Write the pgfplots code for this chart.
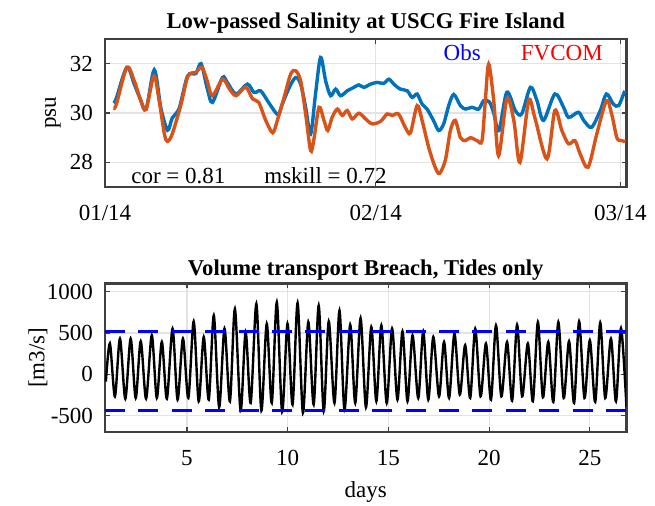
\documentclass[border=0pt]{standalone}
\usepackage{pgfplots}
\pgfplotsset{compat=1.18}
\usepackage{fontspec}
\setmainfont{Liberation Serif}
\definecolor{obsblue}{RGB}{0,114,189}
\definecolor{fvorange}{RGB}{217,83,25}
\begin{document}
\begin{tikzpicture}
\useasboundingbox (0,0) rectangle (327.5pt,252.5pt);
\pgfplotsset{
  every axis/.append style={
    scale only axis,
    width=260.75pt,
    axis line style={black!75, line width=1.1pt},
    tick style={black!75, line width=0.6pt},
    major tick length=2.5pt,
    tick align=inside,
    grid=major,
    major grid style={gray!22, line width=0.6pt},
    tick label style={font=\fontsize{11.5}{13}\selectfont},
    xticklabel style={yshift=-5.5pt},
    yticklabel style={xshift=-2.5pt},
    /pgf/number format/assume math mode=true,
    /pgf/number format/1000 sep={},
    title style={font=\fontsize{11.3}{13}\selectfont\bfseries},
    label style={font=\fontsize{11.5}{13}\selectfont},
  }
}
\begin{axis}[at={(52.5pt,159pt)}, anchor=south west, height=74pt,
  xmin=0, xmax=59.7, ymin=27, ymax=33,
  xtick={0,31,59}, xticklabels={01/14,02/14,03/14},
  ytick={28,30,32},
  ylabel={psu}, ylabel style={at={(axis description cs:-0.0997,0.5)}, anchor=center},
  title={Low-passed Salinity at USCG Fire Island}, title style={yshift=-6.5pt}]
\addplot[obsblue, line width=1.7pt, smooth, tension=0.5] coordinates {
(1.0,30.4) (1.3,30.6) (2.5,31.85) (3.35,31.17) (4.0,30.6) (4.7,30.15) (5.64,31.75)
(6.4,30.2) (7.16,29.3) (7.7,29.8) (8.5,30.2) (9.45,31.5) (10.4,31.6) (11.0,32.0)
(11.7,31.0) (12.3,30.43) (13.45,31.44) (14.0,31.24) (15.0,30.77) (16.3,31.17)
(17.07,30.83) (17.8,30.9) (18.6,30.5) (19.5,30.03) (19.9,29.96) (20.3,30.36)
(21.1,31.04) (21.83,31.44) (22.4,31.17) (22.97,30.23) (23.54,29.15) (24.1,30.77)
(24.68,32.25) (25.26,31.3) (25.83,30.7) (26.4,30.97) (26.97,30.7) (27.73,30.9)
(28.5,31.04) (29.06,31.14) (29.63,31.04) (30.4,31.17) (31.16,31.24) (31.9,31.2)
(32.5,31.37) (33.06,31.17) (33.8,30.97) (34.6,30.9) (35.16,30.63) (35.73,30.77)
(36.3,30.36) (36.87,30.16) (37.6,29.7) (38.2,29.29) (38.77,29.56) (39.35,30.3)
(39.92,30.75) (40.69,30.3) (41.26,30.16) (42.0,30.23) (42.78,30.16) (43.35,30.5)
(44.0,30.45) (44.5,30.0) (45.1,29.29) (46.0,30.84) (46.97,30.1) (47.7,29.96)
(48.7,31.04) (49.45,30.5) (50.2,29.7) (51.5,30.77) (52.5,30.23) (53.07,29.82)
(54.2,30.03) (54.8,29.7) (55.7,29.42) (56.7,30.1) (57.4,30.77) (58.2,30.36)
(58.8,30.3) (59.5,30.9)
};
\addplot[fvorange, line width=1.7pt, smooth, tension=0.5] coordinates {
(1.0,30.2) (1.3,30.35) (2.5,31.85) (3.35,31.3) (4.1,30.5) (4.7,30.15) (5.6,31.5)
(6.2,30.5) (6.8,29.15) (7.15,28.85) (7.7,29.15) (8.7,30.35) (9.5,31.5) (10.4,31.65)
(11.1,31.85) (11.7,31.3) (12.3,30.7) (13.45,31.37) (14.2,31.0) (15.0,30.7)
(16.1,31.05) (16.9,30.57) (17.6,30.43) (18.4,29.7) (19.2,29.2) (19.73,29.7)
(20.5,30.63) (21.26,31.58) (21.83,31.71) (22.4,31.3) (22.97,29.96) (23.54,28.48)
(23.9,28.9) (24.5,30.23) (25.07,29.7) (25.5,29.29) (26.0,29.82) (26.6,30.16)
(27.16,29.9) (27.73,30.1) (28.3,29.76) (29.06,29.99) (29.83,29.76) (30.58,29.56)
(31.54,29.66) (32.3,29.96) (32.87,29.9) (33.6,29.96) (34.4,29.4) (34.97,29.2)
(35.73,30.3) (36.3,29.7) (37.06,28.6) (37.8,27.8) (38.3,27.55) (38.97,28.1)
(39.54,29.29) (40.1,29.7) (40.69,29.0) (41.26,28.88) (41.83,29.0) (42.6,28.88)
(43.16,28.88) (43.54,30.5) (43.92,31.98) (44.5,30.5) (45.06,28.27) (46.0,30.57)
(46.8,29.7) (47.5,28.0) (48.5,30.5) (49.2,29.82) (50.6,28.14) (51.5,30.1)
(52.3,29.29) (53.07,28.75) (53.8,28.88) (54.4,28.34) (55.3,27.8) (56.3,29.15)
(57.4,30.5) (58.0,29.96) (58.6,29.0) (59.1,28.88) (59.6,28.85)
};
\node[anchor=west, font=\fontsize{11.5}{13}\selectfont, inner sep=0pt] at (axis cs:2.97,27.45) {cor = 0.81};
\node[anchor=west, font=\fontsize{11.5}{13}\selectfont, inner sep=0pt] at (axis cs:18.2,27.45) {mskill = 0.72};
\node[anchor=center, font=\fontsize{11.5}{13}\selectfont, text=blue, inner sep=0pt] at (axis cs:40.9,32.45) {Obs};
\node[anchor=center, font=\fontsize{11.5}{13}\selectfont, text=red, inner sep=0pt] at (axis cs:52.3,32.45) {FVCOM};
\end{axis}
\begin{axis}[at={(52.5pt,36.5pt)}, anchor=south west, height=74.25pt,
  xmin=0.93, xmax=26.82, ymin=-700, ymax=1100,
  xtick={5,10,15,20,25}, ytick={-500,0,500,1000},
  ylabel={[m3/s]}, ylabel style={at={(axis description cs:-0.1285,0.5)}, anchor=center},
  xlabel={days}, xlabel style={at={(axis description cs:0.5,0)}, anchor=center, yshift=-30pt},
  title={Volume transport Breach, Tides only}, title style={yshift=-8pt}]
\addplot[black, line width=1.2pt, smooth] coordinates {
(0.973,-88) (1.173,372) (1.422,-268) (1.672,432) (1.938,-296) (2.204,432) (2.454,-288)
(2.704,400) (2.970,-296) (3.253,472) (3.502,-288) (3.752,392) (4.001,-296) (4.284,552)
(4.534,-308) (4.800,432) (5.066,-288) (5.333,640) (5.582,-328) (5.832,452) (6.081,-308)
(6.331,712) (6.597,-400) (6.863,552) (7.130,-328) (7.379,792) (7.662,-440) (7.912,512)
(8.161,-348) (8.444,852) (8.694,-440) (8.960,612) (9.209,-348) (9.459,872) (9.725,-456)
(9.991,612) (10.241,-368) (10.491,864) (10.757,-468) (11.023,632) (11.289,-368)
(11.539,832) (11.789,-448) (12.038,640) (12.321,-348) (12.571,772) (12.820,-428)
(13.103,600) (13.353,-348) (13.619,680) (13.885,-400) (14.151,572) (14.401,-328)
(14.650,592) (14.916,-348) (15.183,552) (15.449,-308) (15.699,520) (15.948,-328)
(16.198,472) (16.481,-288) (16.730,520) (16.980,-308) (17.230,452) (17.513,-268)
(17.762,392) (18.012,-288) (18.278,492) (18.544,-248) (18.810,352) (19.060,-288)
(19.310,552) (19.576,-268) (19.842,372) (20.092,-308) (20.341,592) (20.607,-268)
(20.890,392) (21.140,-320) (21.389,600) (21.639,-268) (21.922,372) (22.171,-328)
(22.421,632) (22.670,-280) (22.937,392) (23.186,-336) (23.436,632) (23.702,-288)
(23.968,400) (24.218,-348) (24.468,640) (24.734,-288) (25.000,412) (25.266,-336)
(25.516,624) (25.765,-288) (26.048,432) (26.298,-328) (26.547,560) (26.820,-400)
};
\addplot[blue, line width=1.3pt, dash pattern=on 10pt off 6.7pt] coordinates {(0.93,515) (26.82,515)};
\addplot[blue, line width=1.3pt, dash pattern=on 10pt off 6.7pt] coordinates {(0.93,-440) (26.82,-440)};
\end{axis}
\end{tikzpicture}
\end{document}
